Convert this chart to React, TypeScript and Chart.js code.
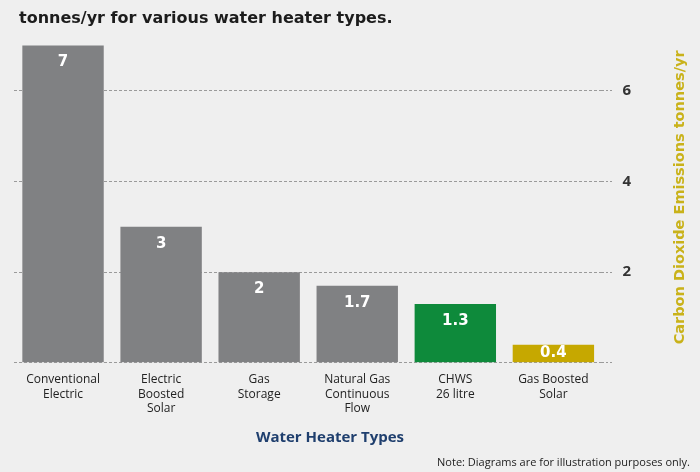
import React, { useEffect, useRef } from "react";
import { Chart, registerables } from "chart.js";
Chart.register(...registerables);

const categories: string[][] = [
  ["Conventional", "Electric"],
  ["Electric", "Boosted", "Solar"],
  ["Gas", "Storage"],
  ["Natural Gas", "Continuous", "Flow"],
  ["CHWS", "26 litre"],
  ["Gas Boosted", "Solar"],
];
const values = [7, 3, 2, 1.7, 1.3, 0.4];
const barColors = ["#808183", "#808183", "#808183", "#808183", "#0e8a3b", "#c6a800"];
const yTicks = [0, 2, 4, 6];
const titleText = "tonnes/yr for various water heater types.";
const xTitle = "Water Heater Types";
const yTitle = "Carbon Dioxide Emissions tonnes/yr";
const noteText = "Note: Diagrams are for illustration purposes only.";

const extras = {
  id: "extras",
  afterDatasetsDraw(chart: any) {
    const ctx = chart.ctx;
    const meta = chart.getDatasetMeta(0);
    ctx.save();
    ctx.fillStyle = "#ffffff";
    ctx.font = "bold 15px 'DejaVu Sans'";
    ctx.textAlign = "center";
    ctx.textBaseline = "middle";
    meta.data.forEach((el: any, i: number) => {
      const top = el.y;
      const base = el.base;
      const y = base - top < 36 ? (top + base) / 2 : top + 17;
      ctx.fillText(String(values[i]), el.x, y);
    });
    ctx.restore();
  },
  afterDraw(chart: any) {
    const ctx = chart.ctx;
    const area = chart.chartArea;
    ctx.save();
    ctx.textBaseline = "middle";
    ctx.fillStyle = "#1c1c1c";
    ctx.font = "bold 16px 'DejaVu Sans'";
    ctx.textAlign = "left";
    ctx.fillText(titleText, 19, 19);
    ctx.fillStyle = "#1f3f6e";
    ctx.font = "bold 15px 'Open Sans'";
    ctx.textAlign = "center";
    ctx.fillText(xTitle, 330, 438);
    ctx.fillStyle = "#222222";
    ctx.font = "11px 'Open Sans'";
    ctx.textAlign = "right";
    ctx.fillText(noteText, 690, 463);
    // right axis title, reading bottom to top
    ctx.translate(680, (area.top + area.bottom) / 2);
    ctx.rotate(-Math.PI / 2);
    ctx.fillStyle = "#c9b21a";
    ctx.font = "bold 14.5px 'DejaVu Sans'";
    ctx.textAlign = "center";
    ctx.fillText(yTitle, 0, 0);
    ctx.restore();
  },
};

export default function App() {
  const ref = useRef<HTMLCanvasElement>(null);
  useEffect(() => {
    const chart = new Chart(ref.current as HTMLCanvasElement, {
      type: "bar",
      data: {
        labels: categories,
        datasets: [
          {
            data: values,
            backgroundColor: barColors,
            barPercentage: 0.83,
            categoryPercentage: 1,
          },
        ],
      },
      options: {
        animation: false,
        responsive: false,
        maintainAspectRatio: false,
        layout: { padding: { left: 14, top: 32, right: 59, bottom: 54 } },
        plugins: {
          legend: { display: false },
          tooltip: { enabled: false },
          title: { display: false },
        },
        scales: {
          x: {
            grid: { display: false },
            border: { display: false },
            ticks: {
              color: "#222222",
              font: { size: 12, family: "'Open Sans'" },
              padding: 2,
              maxRotation: 0,
              autoSkip: false,
            },
          },
          y: {
            position: "right",
            min: 0,
            max: 7.3,
            afterBuildTicks: (axis: any) => {
              axis.ticks = yTicks.map((v) => ({ value: v }));
            },
            grid: {
              color: "#9a9a9a",
              lineWidth: 1,
              drawTicks: true,
              tickLength: 10,
              tickColor: "#9a9a9a",
              tickBorderDash: [2, 2],
            },
            border: { display: false, dash: [3, 2] },
            ticks: {
              color: "#333333",
              font: { size: 15, family: "'Open Sans'", weight: "bold" },
              padding: 10,
              callback: (v: any) => (v === 0 ? "" : String(v)),
            },
            title: { display: false },
          },
        },
      },
      plugins: [extras],
    } as any);
    return () => chart.destroy();
  }, []);
  return (
    <div style={{ position: "fixed", left: 0, top: 0, width: 700, height: 472, background: "#efefef" }}>
      <canvas ref={ref} width={700} height={472} style={{ width: 700, height: 472 }} />
    </div>
  );
}
